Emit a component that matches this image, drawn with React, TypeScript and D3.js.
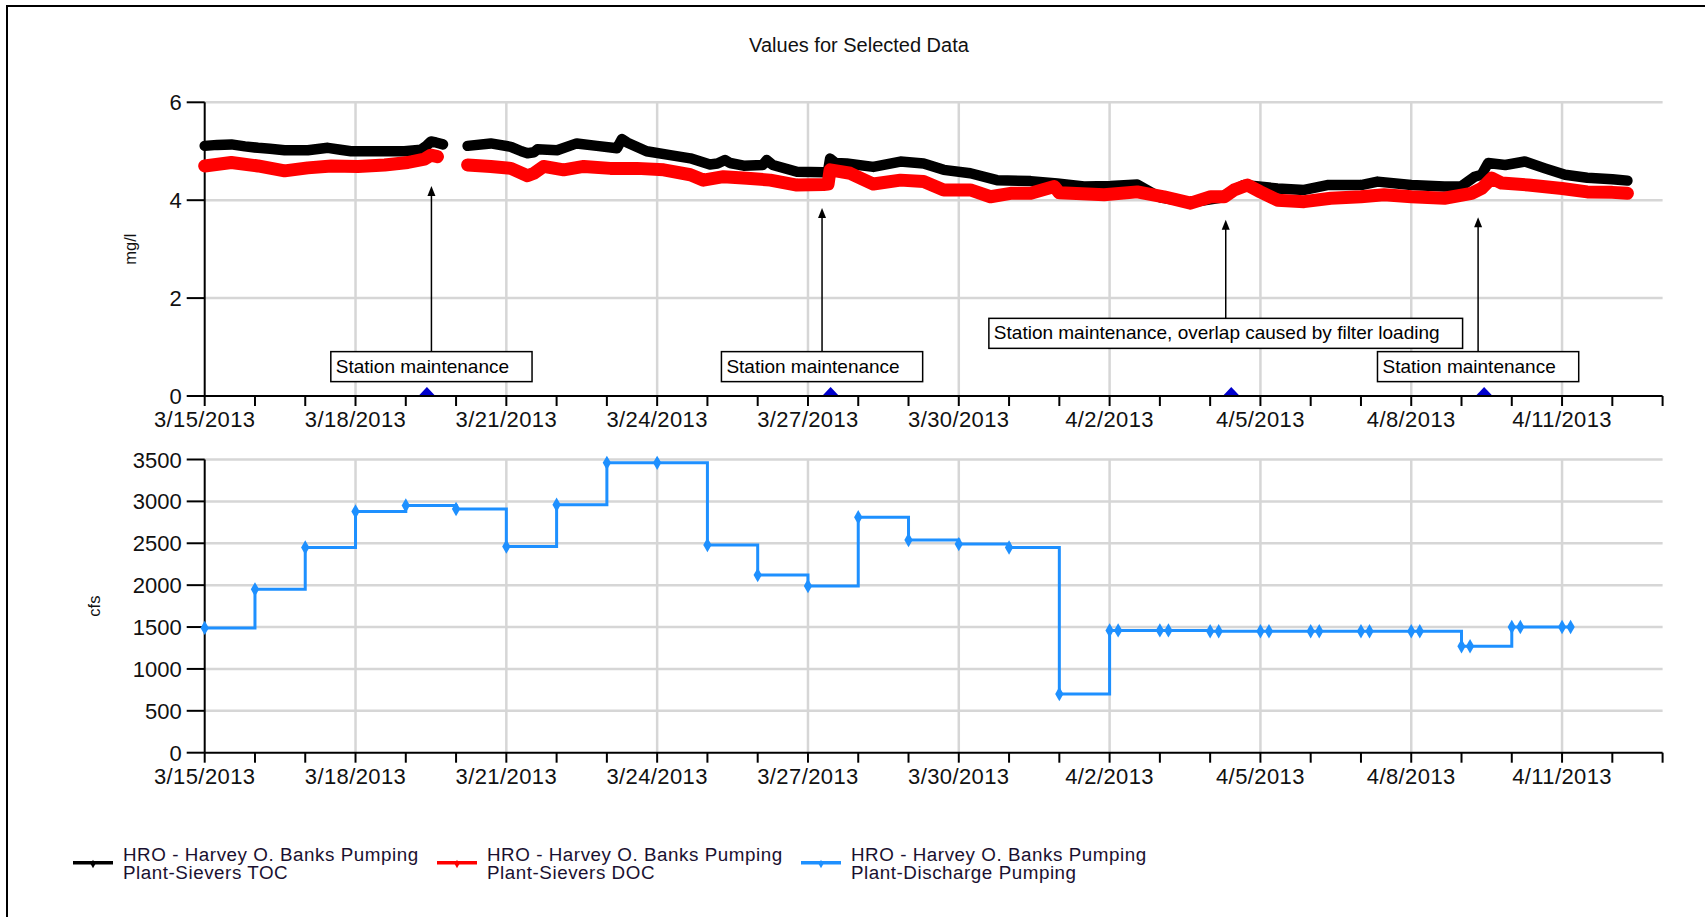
import React from "react";
import * as d3 from "d3";

// ---------- DATA ----------
const START = Date.UTC(2013, 2, 15);
const DAY_MS = 86400000;
const SPAN_DAYS = 29;

const labelDates = ["3/15/2013", "3/18/2013", "3/21/2013", "3/24/2013", "3/27/2013", "3/30/2013", "4/2/2013", "4/5/2013", "4/8/2013", "4/11/2013"];

// TOC (black), day offsets from 3/15/2013 00:00; NaN marks a gap
const tocDays = [0, 0.25, 0.53, 0.8, 1.06, 1.3, 1.59, 2.05, 2.45, 2.7, 2.91, 3.44, 3.97, 4.3, 4.42, 4.5, 4.6, 4.74, 4.9,
  5.23, 5.69, 6.09, 6.3, 6.42, 6.55, 6.62, 7.01, 7.4, 7.8, 8.2, 8.3, 8.4, 8.79, 9.26, 9.66, 10.05, 10.2, 10.35, 10.45,
  10.72, 11.1, 11.18, 11.3, 11.78, 12.31, 12.4, 12.44, 12.55, 12.77, 13.3, 13.84, 14.3, 14.7, 15.23, 15.76, 16.43,
  16.96, 17.49, 18.02, 18.55, 19.0, 19.6, 20.2, 20.5, 20.67, 21.34, 21.87, 22.33, 23.0, 23.33, 24.0, 24.66, 24.99,
  25.26, 25.4, 25.53, 25.87, 26.26, 26.66, 27.06, 27.5, 28.0, 28.3];
const tocValues = [5.11, 5.13, 5.14, 5.1, 5.07, 5.05, 5.02, 5.02, 5.07, 5.03, 5.0, 5.0, 5.0, 5.03, 5.12, 5.2, 5.18, 5.14, NaN,
  5.11, 5.16, 5.09, 5.0, 4.96, 4.98, 5.04, 5.02, 5.16, 5.11, 5.06, 5.25, 5.18, 5.0, 4.92, 4.855, 4.73, 4.75, 4.82, 4.76,
  4.705, 4.72, 4.82, 4.72, 4.58, 4.57, 4.6, 4.85, 4.76, 4.75, 4.68, 4.79, 4.75, 4.62, 4.55, 4.41, 4.39,
  4.34, 4.28, 4.29, 4.32, 4.06, 3.95, 4.05, 4.22, 4.31, 4.24, 4.21, 4.31, 4.31, 4.38, 4.31, 4.28, 4.28,
  4.48, 4.52, 4.76, 4.72, 4.79, 4.65, 4.52, 4.46, 4.43, 4.4];

// DOC (red)
const docDays = [0, 0.53, 1.06, 1.59, 2.05, 2.52, 3.05, 3.58, 4.04, 4.37, 4.5, 4.63, 4.9,
  5.23, 5.69, 6.09, 6.42, 6.55, 6.74, 7.14, 7.54, 8.07, 8.6, 9.13, 9.66, 9.92, 10.32, 10.79, 11.25, 11.78, 12.31,
  12.4, 12.44, 12.84, 13.3, 13.84, 14.3, 14.7, 15.23, 15.63, 16.03, 16.43, 16.9, 17.0, 17.23, 17.89, 18.55, 19.08,
  19.61, 20.01, 20.28, 20.48, 20.74, 21.0, 21.34, 21.87, 22.4, 23.0, 23.46, 24.0, 24.66, 25.2, 25.4, 25.6, 25.8,
  26.33, 27.0, 27.5, 28.0, 28.3];
const docValues = [4.7, 4.77, 4.7, 4.6, 4.66, 4.7, 4.69, 4.72, 4.77, 4.84, 4.92, 4.89, NaN,
  4.72, 4.69, 4.65, 4.5, 4.55, 4.69, 4.62, 4.69, 4.65, 4.65, 4.62, 4.52, 4.41, 4.48, 4.45, 4.41, 4.31, 4.32,
  4.33, 4.62, 4.55, 4.33, 4.41, 4.38, 4.21, 4.21, 4.07, 4.14, 4.14, 4.28, 4.15, 4.14, 4.11, 4.17, 4.07,
  3.94, 4.07, 4.07, 4.21, 4.31, 4.17, 4.0, 3.97, 4.04, 4.07, 4.11, 4.07, 4.04, 4.14, 4.24, 4.45, 4.35,
  4.31, 4.24, 4.17, 4.16, 4.14];

// Discharge pumping (blue), step data
const pumpDays = [0, 1, 2, 3, 4, 5, 6, 7, 8, 9, 10, 11, 12, 13, 14, 15, 16, 17, 18, 18.17, 19, 19.17, 20, 20.17,
  21, 21.17, 22, 22.17, 23, 23.17, 24, 24.17, 25, 25.17, 26, 26.17, 27, 27.17];
const pumpValues = [1490, 1950, 2450, 2880, 2950, 2910, 2460, 2960, 3460, 3460, 2480, 2120, 1990, 2810, 2540, 2490,
  2450, 700, 1460, 1460, 1460, 1460, 1450, 1450, 1450, 1450, 1450, 1450, 1450, 1450, 1450, 1450, 1270, 1270,
  1500, 1500, 1500, 1500];

// Annotations
const noteTexts = ["Station maintenance", "Station maintenance", "Station maintenance, overlap caused by filter loading", "Station maintenance"];
const noteMarkerDays = [4.42, 12.45, 20.42, 25.45];
const noteArrowDays = [4.51, 12.28, 20.31, 25.33];
const noteTipValues = [4.29, 3.84, 3.6, 3.65];
const noteBoxValues = [0.6, 0.6, 1.28, 0.6];

const topTicks = [0, 2, 4, 6];
const bottomTicks = [0, 500, 1000, 1500, 2000, 2500, 3000, 3500];

const legendLines = [
  ["HRO - Harvey O. Banks Pumping", "Plant-Sievers TOC"],
  ["HRO - Harvey O. Banks Pumping", "Plant-Sievers DOC"],
  ["HRO - Harvey O. Banks Pumping", "Plant-Discharge Pumping"],
];
const legendColors = ["#000000", "#ff0000", "#1e90ff"];

// ---------- LAYOUT ----------
const W = 1705, H = 917;
const FONT = "'Liberation Sans', Arial, sans-serif";
const PX0 = 204.7, PX1 = 1662.6;
const TOP_Y0 = 396, TOP_Y1 = 102.3;
const BOT_Y0 = 752.7, BOT_Y1 = 459.5;

const toDate = (d: number) => new Date(START + d * DAY_MS);

function measure(text: string, font: string) {
  const c = document.createElement("canvas").getContext("2d");
  if (!c) return text.length * 9;
  c.font = font;
  return c.measureText(text).width;
}

export default function App() {
  const x = d3.scaleUtc().domain([toDate(0), toDate(SPAN_DAYS)]).range([PX0, PX1]);
  const yTop = d3.scaleLinear().domain([0, 6]).range([TOP_Y0, TOP_Y1]);
  const yBot = d3.scaleLinear().domain([0, 3500]).range([BOT_Y0, BOT_Y1]);
  const fmt = d3.utcFormat("%-m/%-d/%Y");

  const dayTicks = d3.utcDay.range(toDate(0), toDate(SPAN_DAYS + 0.5));
  const labelTicks = dayTicks.filter((t) => labelDates.includes(fmt(t)));

  const toc = tocDays.map((d, i) => ({ t: toDate(d), v: tocValues[i] }));
  const doc = docDays.map((d, i) => ({ t: toDate(d), v: docValues[i] }));
  const pump = pumpDays.map((d, i) => ({ t: toDate(d), v: pumpValues[i] }));

  const topLine = d3.line<{ t: Date; v: number }>()
    .defined((d) => !isNaN(d.v))
    .x((d) => x(d.t)).y((d) => yTop(d.v))
    .curve(d3.curveLinear);
  const stepLine = d3.line<{ t: Date; v: number }>()
    .x((d) => x(d.t)).y((d) => yBot(d.v))
    .curve(d3.curveStepAfter);
  const diamond = d3.symbol().type(d3.symbolDiamond).size(60)();

  const tickFont = 22;
  const noteFont = `19px ${FONT}`;

  const renderXAxis = (y0: number, key: string) => (
    <g key={key}>
      <line x1={PX0} x2={PX1} y1={y0} y2={y0} stroke="#000" strokeWidth={2} />
      {dayTicks.map((t, i) => (
        <line key={i} x1={x(t)} x2={x(t)} y1={y0} y2={y0 + 10} stroke="#000" strokeWidth={2} />
      ))}
      {labelTicks.map((t, i) => (
        <text key={"l" + i} x={x(t)} y={y0 + 31} textAnchor="middle" fontSize={tickFont} letterSpacing={0.4} fill="#111">
          {fmt(t)}
        </text>
      ))}
    </g>
  );

  const renderGrid = (yScale: d3.ScaleLinear<number, number>, ticks: number[], key: string) => {
    const [r0, r1] = yScale.range();
    return (
      <g key={key}>
        {ticks.filter((v) => v !== 0).map((v) => (
          <line key={"h" + v} x1={PX0} x2={PX1} y1={yScale(v)} y2={yScale(v)} stroke="#d6d6d6" strokeWidth={2.5} />
        ))}
        {labelTicks.filter((t) => +t !== +toDate(0)).map((t, i) => (
          <line key={"v" + i} x1={x(t)} x2={x(t)} y1={r1} y2={r0} stroke="#d6d6d6" strokeWidth={2.5} />
        ))}
      </g>
    );
  };

  const renderYAxis = (yScale: d3.ScaleLinear<number, number>, ticks: number[], key: string) => {
    const [r0, r1] = yScale.range();
    return (
      <g key={key}>
        <line x1={PX0} x2={PX0} y1={r1} y2={r0} stroke="#000" strokeWidth={2} />
        {ticks.map((v) => (
          <g key={v}>
            <line x1={PX0 - 18} x2={PX0} y1={yScale(v)} y2={yScale(v)} stroke="#000" strokeWidth={2} />
            <text x={PX0 - 23} y={yScale(v) + 8} textAnchor="end" fontSize={tickFont} fill="#111">{v}</text>
          </g>
        ))}
      </g>
    );
  };

  return (
    <svg width={W} height={H} style={{ position: "absolute", left: 0, top: 0, background: "#fff" }} fontFamily={FONT}>
      <rect x={0} y={0} width={W} height={H} fill="#fff" />
      <rect x={7} y={6} width={W + 20} height={H + 20} fill="none" stroke="#000" strokeWidth={2} />

      <text x={859} y={51.5} textAnchor="middle" fontSize={20} fill="#111">Values for Selected Data</text>

      {/* top chart */}
      {renderGrid(yTop, topTicks, "gt")}
      {renderYAxis(yTop, topTicks, "yt")}
      <text transform={`translate(136,${(TOP_Y0 + TOP_Y1) / 2}) rotate(-90)`} textAnchor="middle" fontSize={16.5} fill="#111">mg/l</text>

      <path d={topLine(toc) || ""} fill="none" stroke="#000" strokeWidth={10.5} strokeLinejoin="round" strokeLinecap="round" />
      <path d={topLine(doc) || ""} fill="none" stroke="#ff0000" strokeWidth={13} strokeLinejoin="round" strokeLinecap="round" />

      {noteTexts.map((txt, i) => {
        const tw = measure(txt, noteFont);
        const bw = tw + 28;
        const bh = 30;
        const cx = x(toDate(noteArrowDays[i]));
        const cy = yTop(noteBoxValues[i]);
        const top = cy - bh / 2;
        const tipY = yTop(noteTipValues[i]);
        const mx = x(toDate(noteMarkerDays[i]));
        return (
          <g key={"n" + i}>
            <line x1={cx} x2={cx} y1={top} y2={tipY + 8} stroke="#000" strokeWidth={1.5} />
            <path d={`M${cx},${tipY} L${cx - 4},${tipY + 10} L${cx + 4},${tipY + 10} Z`} fill="#000" />
            <rect x={cx - bw / 2} y={top} width={bw} height={bh} fill="#fff" stroke="#000" strokeWidth={1.5} />
            <text x={cx - bw / 2 + 5} y={top + 21} fontSize={19} fill="#000">{txt}</text>
            <path d={`M${mx - 8.5},${TOP_Y0} L${mx},${TOP_Y0 - 9} L${mx + 8.5},${TOP_Y0} Z`} fill="#0000cd" />
          </g>
        );
      })}
      {renderXAxis(TOP_Y0, "xt")}

      {/* bottom chart */}
      {renderGrid(yBot, bottomTicks, "gb")}
      {renderYAxis(yBot, bottomTicks, "yb")}
      <text transform={`translate(100,${(BOT_Y0 + BOT_Y1) / 2}) rotate(-90)`} textAnchor="middle" fontSize={16.5} fill="#111">cfs</text>
      <path d={stepLine(pump) || ""} fill="none" stroke="#1e90ff" strokeWidth={3} />
      {pump.map((p, i) => (
        <path key={"m" + i} d={diamond || ""} transform={`translate(${x(p.t)},${yBot(p.v)})`} fill="#1e90ff" />
      ))}
      {renderXAxis(BOT_Y0, "xb")}

      {/* legend */}
      {legendLines.map((lines, i) => {
        const lx = 73 + i * 364;
        return (
          <g key={"lg" + i}>
            <line x1={lx} x2={lx + 40} y1={862.7} y2={862.7} stroke={legendColors[i]} strokeWidth={3.5} />
            <path d={d3.symbol().type(d3.symbolDiamond).size(20)() || ""} transform={`translate(${lx + 20},${864})`} fill={legendColors[i]} />
            <text x={lx + 50} y={860.7} fontSize={18.8} letterSpacing={0.55} fill="#1a1030">{lines[0]}</text>
            <text x={lx + 50} y={879.3} fontSize={18.8} letterSpacing={0.55} fill="#1a1030">{lines[1]}</text>
          </g>
        );
      })}
    </svg>
  );
}
